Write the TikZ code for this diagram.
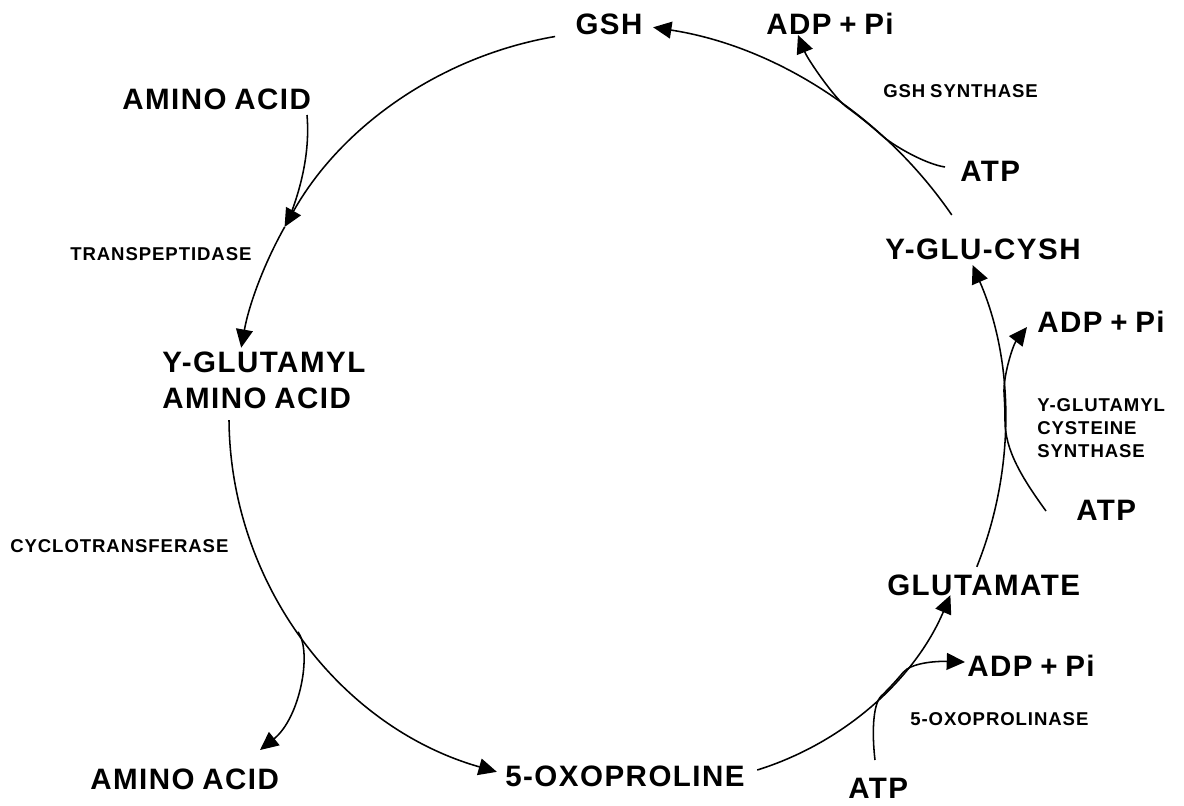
\documentclass[tikz,border=0pt]{standalone}
\usepackage{fontspec}
\setmainfont{Liberation Sans}[LetterSpace=5,WordSpace=0.8]
\usetikzlibrary{arrows.meta}
\begin{document}
\begin{tikzpicture}[x=0.025cm,y=-0.025cm,
  big/.style={font=\fontsize{21}{25.6}\selectfont\bfseries,inner sep=0pt},
  small/.style={font=\fontsize{13.2}{16.4}\selectfont\bfseries,inner sep=0pt},
  line/.style={line width=1.1pt},
  arr/.style={-{Triangle[length=13pt,width=12pt]}}]
\useasboundingbox (0,0) rectangle (1184,805);
% labels
\node[big] (gsh) at (609,24) {GSH};
\node[big] (adp1) at (830,24) {ADP + Pi};
\node[small,anchor=west] (gshsyn) at (883,91) {GSH SYNTHASE};
\node[big,anchor=west] (atp1) at (960,171) {ATP};
\node[big,anchor=west] (yglucysh) at (885,249) {Y-GLU-CYSH};
\node[big,anchor=west] (adp2) at (1037,322) {ADP + Pi};
\node[small,anchor=north west,align=left] (ygcs) at (1037,398) {Y-GLUTAMYL\\CYSTEINE\\SYNTHASE};
\node[big,anchor=west] (atp2) at (1076,510) {ATP};
\node[big,anchor=west] (glu) at (887,585) {GLUTAMATE};
\node[big,anchor=west] (adp3) at (967,666) {ADP + Pi};
\node[small,anchor=west] (oxase) at (910,719) {5-OXOPROLINASE};
\node[big,anchor=west] (atp3) at (848,788) {ATP};
\node[big,anchor=west] (oxo) at (505,776) {5-OXOPROLINE};
\node[big,anchor=west] (aa3) at (90,779) {AMINO ACID};
\node[small,anchor=west] (cyclo) at (10,546) {CYCLOTRANSFERASE};
\node[big,anchor=north west,align=left] (ygaa) at (162,352) {Y-GLUTAMYL\\AMINO ACID};
\node[small,anchor=west] (transp) at (70,254) {TRANSPEPTIDASE};
\node[big,anchor=west] (aa1) at (122,99) {AMINO ACID};
% connector end points
\coordinate (fS) at (951.8,215);
\coordinate (aS) at (555.1,36.5);
\coordinate (aE) at (284.7,226.9);
\coordinate (cS) at (229,420.2);
\coordinate (dS) at (757.2,770);
\coordinate (eS) at (976.8,566.8);
\coordinate (aa1E) at (307,115);
\coordinate (aaJ) at (290,216);
\coordinate (cT) at (298,631.8);
\coordinate (aa3T) at (260,750);
\coordinate (atp3S) at (875,760);
\coordinate (dT) at (881.1,696.2);
\coordinate (adp3T) at (965,662);
\coordinate (atp2S) at (1046,511);
\coordinate (eT) at (1005,421);
\coordinate (adp2T) at (1027,327);
\coordinate (atp1S) at (945,167);
\coordinate (fT) at (881.6,135.3);
\coordinate (adp1T) at (798,35);
% main cycle
\draw[line,arr] (fS) arc[start angle=-34.5,end angle=-81.2,radius=445];
\draw[line,arr] (aS) arc[start angle=-99.7,end angle=-150.6,radius=385];
\draw[line,arr] (aE) arc[start angle=-150.6,end angle=-169.8,radius=385];
\draw[line,arr] (cS) arc[start angle=179.5,end angle=105.9,radius=369];
\draw[line,arr] (dS) arc[start angle=72.7,end angle=23.0,radius=310];
\draw[line,arr] (eS) arc[start angle=21.9,end angle=-23.5,radius=391];
% side reactions
\draw[line] (aa1E) .. controls (310,150) and (302,185) .. (aaJ);
\draw[line,arr] (cT) .. controls (312.5,652) and (300,718) .. (aa3T);
\draw[line,arr] (atp3S) .. controls (872,735) and (872.5,704.6) .. (dT)
  arc[start angle=45.8,end angle=39.8,radius=310]
  .. controls (911,663) and (935,661) .. (adp3T);
\draw[line,arr] (atp2S) .. controls (1022,478) and (1005,450) .. (eT)
  arc[start angle=0,end angle=-4,radius=391]
  .. controls (1003,376) and (1013,345) .. (adp2T);
\draw[line,arr] (atp1S) .. controls (925,164) and (892.8,145.3) .. (fT)
  arc[start angle=-48.2,end angle=-54,radius=445]
  .. controls (834.5,98.2) and (808,60) .. (adp1T);
\end{tikzpicture}
\end{document}
